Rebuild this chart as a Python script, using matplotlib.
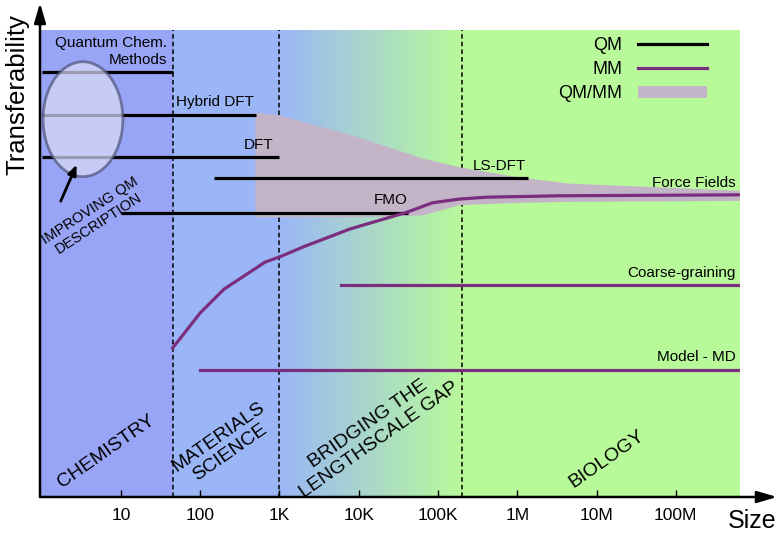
import numpy as np
import matplotlib
matplotlib.use('Agg')
import matplotlib.pyplot as plt
from matplotlib.lines import Line2D
from matplotlib.patches import Patch, Ellipse

plt.rcParams['font.family'] = ['Liberation Sans', 'DejaVu Sans']

# QM methods: (label, start size, end size, transferability)
qm_names = ['Quantum Chem. Methods', 'Hybrid DFT', 'DFT', 'LS-DFT', 'FMO']
qm_start = [1, 1, 1, 150, 10]
qm_end = [45, 500, 1000, 1.35e6, 4.2e4]
qm_level = [91.0, 81.8, 72.8, 68.3, 60.8]

# MM curve (force fields)
mm_size = [45, 100, 200, 660, 1000, 2100, 7800, 4.1e4, 8.5e4, 1.86e5, 4.1e5, 3.4e6, 6.3e8]
mm_level = [31.9, 39.4, 44.5, 50.3, 51.4, 53.7, 57.4, 61.0, 63.0, 63.8, 64.2, 64.5, 64.7]

# other MM methods
cg_start, cg_level = 6000, 45.4
md_start, md_level = 100, 27.2

# QM/MM band
qmmm_size = [490, 1000, 3200, 1.0e4, 6.3e4, 1.86e5, 1.07e6, 4.6e6, 6.3e8]
qmmm_upper = [82.4, 81.8, 79.4, 77.1, 72.6, 70.7, 68.5, 67.2, 65.7]
qmmm_lower = [60.0, 60.0, 60.0, 60.0, 60.4, 62.6, 63.1, 63.3, 63.5]

# region borders
borders = [45, 1000, 2.0e5]
tick_vals = [10, 100, 1e3, 1e4, 1e5, 1e6, 1e7, 1e8]
tick_labels = ['10', '100', '1K', '10K', '100K', '1M', '10M', '100M']

xmin, xmax = 10 ** -0.02, 10 ** 8.81

c_chem = '#98a4f5'
c_mat = '#9ab6f6'
c_bio = '#b8f99a'
c_purple = '#7b2d7e'
c_qmmm = '#c4b4c8'

fig = plt.figure(figsize=(7.8, 5.33), dpi=100)
ax = fig.add_axes([40 / 780, 36 / 533, 700 / 780, 467 / 533])
ax.set_xscale('log')
ax.set_xlim(xmin, xmax)
ax.set_ylim(0, 100)

# backgrounds
ax.axvspan(xmin, borders[0], color=c_chem, lw=0, zorder=0)
ax.axvspan(borders[0], borders[1], color=c_mat, lw=0, zorder=0)
ax.axvspan(borders[2], xmax, color=c_bio, lw=0, zorder=0)
c0 = np.array(matplotlib.colors.to_rgb(c_mat))
c1 = np.array(matplotlib.colors.to_rgb(c_bio))
edges = np.logspace(np.log10(borders[1]), np.log10(borders[2]), 121)
for i in range(len(edges) - 1):
    t = i / (len(edges) - 2)
    ax.axvspan(edges[i], edges[i + 1] * 1.001, color=c0 + (c1 - c0) * t, lw=0, zorder=0)

for b in borders:
    ax.axvline(b, color='black', ls=(0, (3, 2)), lw=1.1, zorder=1)

# QM/MM band
ax.fill_between(qmmm_size, qmmm_lower, qmmm_upper, color=c_qmmm, lw=0, zorder=2)

# QM lines
for s, e, y in zip(qm_start, qm_end, qm_level):
    ax.plot([s, e], [y, y], color='black', lw=2.3, solid_capstyle='butt', zorder=3)

# MM lines
ax.plot(mm_size, mm_level, color=c_purple, lw=2.3, zorder=3)
ax.plot([cg_start, xmax], [cg_level, cg_level], color=c_purple, lw=2.3, zorder=3)
ax.plot([md_start, xmax], [md_level, md_level], color=c_purple, lw=2.3, zorder=3)

fs = 11
ax.text(38, 97.2, 'Quantum Chem.', ha='right', va='center', fontsize=fs)
ax.text(38, 93.6, 'Methods', ha='right', va='center', fontsize=fs)
ax.text(49, 84.6, 'Hybrid DFT', ha='left', va='center', fontsize=fs)
ax.text(830, 75.4, 'DFT', ha='right', va='center', fontsize=fs)
ax.text(2.75e5, 70.9, 'LS-DFT', ha='left', va='center', fontsize=fs)
ax.text(4.2e4, 63.6, 'FMO', ha='right', va='center', fontsize=fs)
ax.text(5.7e8, 67.2, 'Force Fields', ha='right', va='center', fontsize=fs)
ax.text(5.7e8, 48.0, 'Coarse-graining', ha='right', va='center', fontsize=fs)
ax.text(5.7e8, 30.0, 'Model - MD', ha='right', va='center', fontsize=fs)

# ellipse and arrow
ell = Ellipse((0.0614, 0.809), 0.114, 0.246, transform=ax.transAxes,
              facecolor='#dcdef9', alpha=0.7, edgecolor='#4f5478', lw=2, zorder=4)
ax.add_patch(ell)
ax.annotate('', xy=(0.054, 0.717), xytext=(0.028, 0.628), xycoords='axes fraction',
            arrowprops=dict(arrowstyle='-|>,head_width=0.25,head_length=0.6',
                            color='black', lw=2), zorder=5)
ax.text(0.078, 0.6, 'IMPROVING QM\nDESCRIPTION', transform=ax.transAxes,
        rotation=33, ha='center', va='center', fontsize=10.5, linespacing=1.15,
        multialignment='center')

# region labels
rfs = 14
ax.text(0.094, 0.098, 'CHEMISTRY', transform=ax.transAxes, rotation=35,
        ha='center', va='center', fontsize=rfs)
ax.text(0.263, 0.112, 'MATERIALS\nSCIENCE', transform=ax.transAxes, rotation=35,
        ha='center', va='center', fontsize=rfs, linespacing=1.2)
ax.text(0.476, 0.14, 'BRIDGING THE\nLENGTHSCALE GAP', transform=ax.transAxes,
        rotation=35, ha='center', va='center', fontsize=rfs, linespacing=1.2)
ax.text(0.81, 0.082, 'BIOLOGY', transform=ax.transAxes, rotation=35,
        ha='center', va='center', fontsize=rfs)

# legend
handles = [Line2D([], [], color='black', lw=2.3),
           Line2D([], [], color=c_purple, lw=2.3),
           Patch(facecolor=c_qmmm, edgecolor='none')]
ax.legend(handles, ['QM', 'MM', 'QM/MM'], loc='upper right', bbox_to_anchor=(0.953, 0.985),
          frameon=False, markerfirst=False, fontsize=13, handlelength=3.8,
          handletextpad=0.9, labelspacing=0.4, borderpad=0, borderaxespad=0)

# axes
for sp in ['top', 'right', 'left', 'bottom']:
    ax.spines[sp].set_visible(False)
ax.set_yticks([])
ax.set_xticks(tick_vals)
ax.set_xticklabels(tick_labels, fontsize=12.5,
                   family=['Liberation Sans Narrow', 'Liberation Sans'])
ax.minorticks_off()
ax.tick_params(axis='x', direction='in', length=5, width=1, pad=8)

ax.annotate('', xy=(1.053, 0), xytext=(0, 0), xycoords='axes fraction',
            arrowprops=dict(arrowstyle='-|>,head_width=0.35,head_length=1.2',
                            color='black', lw=1.8, shrinkA=0, shrinkB=0))
ax.annotate('', xy=(0, 1.058), xytext=(0, 0), xycoords='axes fraction',
            arrowprops=dict(arrowstyle='-|>,head_width=0.35,head_length=1.2',
                            color='black', lw=1.8, shrinkA=0, shrinkB=0))

fig.text(17 / 780, 1 - 95 / 533, 'Transferability', rotation=90, ha='center',
         va='center', fontsize=18.5)
fig.text(752 / 780, 1 - 521 / 533, 'Size', ha='center', va='center', fontsize=18)

fig.savefig('out.png', dpi=100)
